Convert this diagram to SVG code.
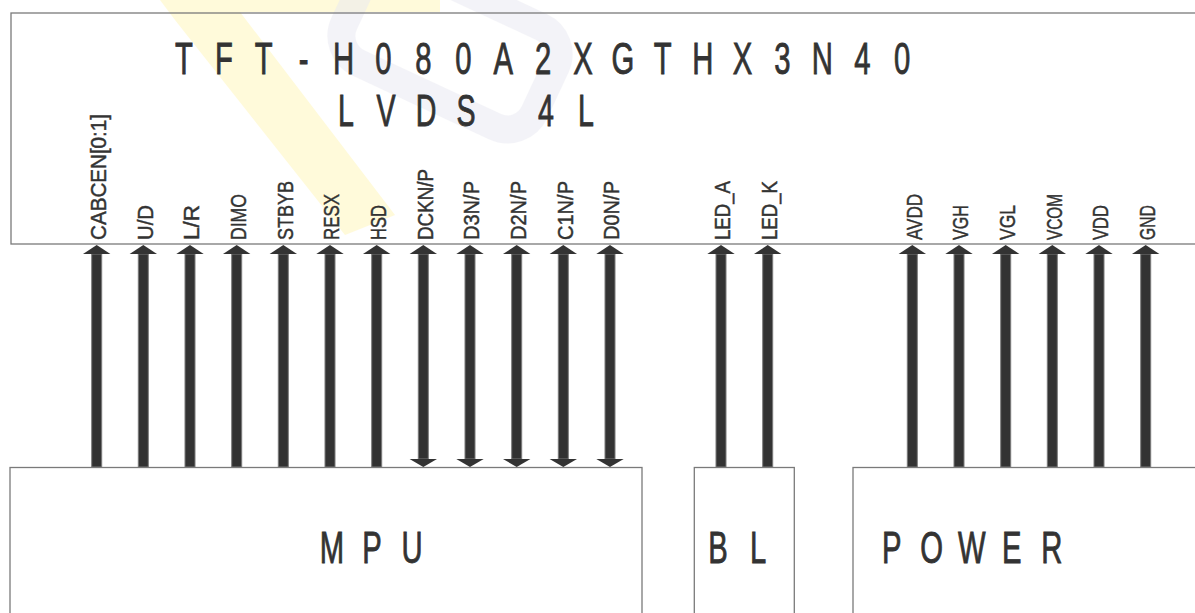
<svg xmlns="http://www.w3.org/2000/svg" xmlns:xlink="http://www.w3.org/1999/xlink" width="1195" height="613" viewBox="0 0 1195 613">
<style>
.box{fill:none;stroke:#7a7a7a;stroke-width:1.3}
.big{font-family:"Liberation Sans",Arial,sans-serif;fill:#333;stroke:#333;stroke-width:0.9;text-anchor:middle}
.lbl{font-family:"Liberation Sans",Arial,sans-serif;font-size:21.5px;fill:#333;stroke:#333;stroke-width:0.45}
.head{fill:#333}
.shaft{fill:#333;stroke:#7a7a7a;stroke-width:1}
</style>
<defs>
<g id="arrUp">
<rect class="shaft" x="-5" y="254" width="10" height="213"/>
<path class="head" d="M0,245 L13.7,254 L-13.7,254 Z"/>
</g>
<g id="arrBi">
<rect class="shaft" x="-5" y="254" width="10" height="205"/>
<path class="head" d="M0,245 L13.7,254 L-13.7,254 Z"/>
<path class="head" d="M-13.7,459 L13.7,459 L0,467 Z"/>
</g>
</defs>
<rect width="1195" height="613" fill="#fff"/>
<g id="watermark" opacity="0.55">
<path d="M160,0 L440,0 L440,12 L240,12 L395,215 L345,235 L175,20 Z" fill="#fff3a0" opacity="0.7"/>
<g transform="translate(450,45) rotate(25)">
<rect x="-105" y="-55" width="210" height="110" rx="30" fill="none" stroke="#d8d8e8" stroke-width="28" opacity="0.5"/>
</g>
</g>
<g id="lcd">
<rect class="box" x="11" y="13" width="1200" height="231"/>
<text class="big" font-size="45" y="74" transform="scale(0.65,1)" x="283.1 344.5 405.8 467.2 528.6 590 651.4 712.8 774.2 835.5 896.9 958.3 1019.7 1081.1 1142.5 1203.8 1265.2 1326.6 1388">TFT-H080A2XGTHX3N40</text>
<text class="big" font-size="44" y="126" transform="scale(0.65,1)" x="532.3 593.8 655.4 716.9 778.5 840 901.5">LVDS 4L</text>
</g>
<g id="mpu">
<rect class="box" x="10" y="467.5" width="632" height="160"/>
<text class="big" font-size="45" y="563" transform="scale(0.65,1)" x="510.8 572.3 633.8">MPU</text>
</g>
<g id="bl">
<rect class="box" x="694.3" y="467.5" width="100" height="160"/>
<text class="big" font-size="45" y="563" transform="scale(0.65,1)" x="1104.6 1166.2">BL</text>
</g>
<g id="power">
<rect class="box" x="853" y="467.5" width="360" height="160"/>
<text class="big" font-size="45" y="563" transform="scale(0.65,1)" x="1371.8 1433.4 1495 1556.5 1618">POWER</text>
</g>
<g id="connectors">
<use xlink:href="#arrUp" x="96.7"/>
<use xlink:href="#arrUp" x="143.3"/>
<use xlink:href="#arrUp" x="190"/>
<use xlink:href="#arrUp" x="236.7"/>
<use xlink:href="#arrUp" x="283.3"/>
<use xlink:href="#arrUp" x="330"/>
<use xlink:href="#arrUp" x="376.7"/>
<use xlink:href="#arrBi" x="423.3"/>
<use xlink:href="#arrBi" x="470"/>
<use xlink:href="#arrBi" x="516.7"/>
<use xlink:href="#arrBi" x="563.3"/>
<use xlink:href="#arrBi" x="610"/>
<use xlink:href="#arrUp" x="721"/>
<use xlink:href="#arrUp" x="767.7"/>
<use xlink:href="#arrUp" x="912.3"/>
<use xlink:href="#arrUp" x="959"/>
<use xlink:href="#arrUp" x="1005.7"/>
<use xlink:href="#arrUp" x="1052.3"/>
<use xlink:href="#arrUp" x="1099"/>
<use xlink:href="#arrUp" x="1145.7"/>
</g>
<g id="pin-labels">
<text class="lbl" transform="translate(106.1,240) rotate(-90)" textLength="126" lengthAdjust="spacingAndGlyphs">CABCEN[0:1]</text>
<text class="lbl" transform="translate(152.7,240) rotate(-90)" textLength="35" lengthAdjust="spacingAndGlyphs">U/D</text>
<text class="lbl" transform="translate(199.4,240) rotate(-90)" textLength="35" lengthAdjust="spacingAndGlyphs">L/R</text>
<text class="lbl" transform="translate(246.1,240) rotate(-90)" textLength="46" lengthAdjust="spacingAndGlyphs">DIMO</text>
<text class="lbl" transform="translate(292.7,240) rotate(-90)" textLength="59" lengthAdjust="spacingAndGlyphs">STBYB</text>
<text class="lbl" transform="translate(339.4,240) rotate(-90)" textLength="46" lengthAdjust="spacingAndGlyphs">RESX</text>
<text class="lbl" transform="translate(386.1,240) rotate(-90)" textLength="35" lengthAdjust="spacingAndGlyphs">HSD</text>
<text class="lbl" transform="translate(432.7,240) rotate(-90)" textLength="71" lengthAdjust="spacingAndGlyphs">DCKN/P</text>
<text class="lbl" transform="translate(479.4,240) rotate(-90)" textLength="59" lengthAdjust="spacingAndGlyphs">D3N/P</text>
<text class="lbl" transform="translate(526.1,240) rotate(-90)" textLength="59" lengthAdjust="spacingAndGlyphs">D2N/P</text>
<text class="lbl" transform="translate(572.7,240) rotate(-90)" textLength="59" lengthAdjust="spacingAndGlyphs">C1N/P</text>
<text class="lbl" transform="translate(619.4,240) rotate(-90)" textLength="59" lengthAdjust="spacingAndGlyphs">D0N/P</text>
<text class="lbl" transform="translate(730.4,240) rotate(-90)" textLength="59" lengthAdjust="spacingAndGlyphs">LED_A</text>
<text class="lbl" transform="translate(777.1,240) rotate(-90)" textLength="59" lengthAdjust="spacingAndGlyphs">LED_K</text>
<text class="lbl" transform="translate(921.7,240) rotate(-90)" textLength="46" lengthAdjust="spacingAndGlyphs">AVDD</text>
<text class="lbl" transform="translate(968.4,240) rotate(-90)" textLength="35" lengthAdjust="spacingAndGlyphs">VGH</text>
<text class="lbl" transform="translate(1015.1,240) rotate(-90)" textLength="35" lengthAdjust="spacingAndGlyphs">VGL</text>
<text class="lbl" transform="translate(1061.7,240) rotate(-90)" textLength="46" lengthAdjust="spacingAndGlyphs">VCOM</text>
<text class="lbl" transform="translate(1108.4,240) rotate(-90)" textLength="35" lengthAdjust="spacingAndGlyphs">VDD</text>
<text class="lbl" transform="translate(1155.1,240) rotate(-90)" textLength="35" lengthAdjust="spacingAndGlyphs">GND</text>
</g>
</svg>
